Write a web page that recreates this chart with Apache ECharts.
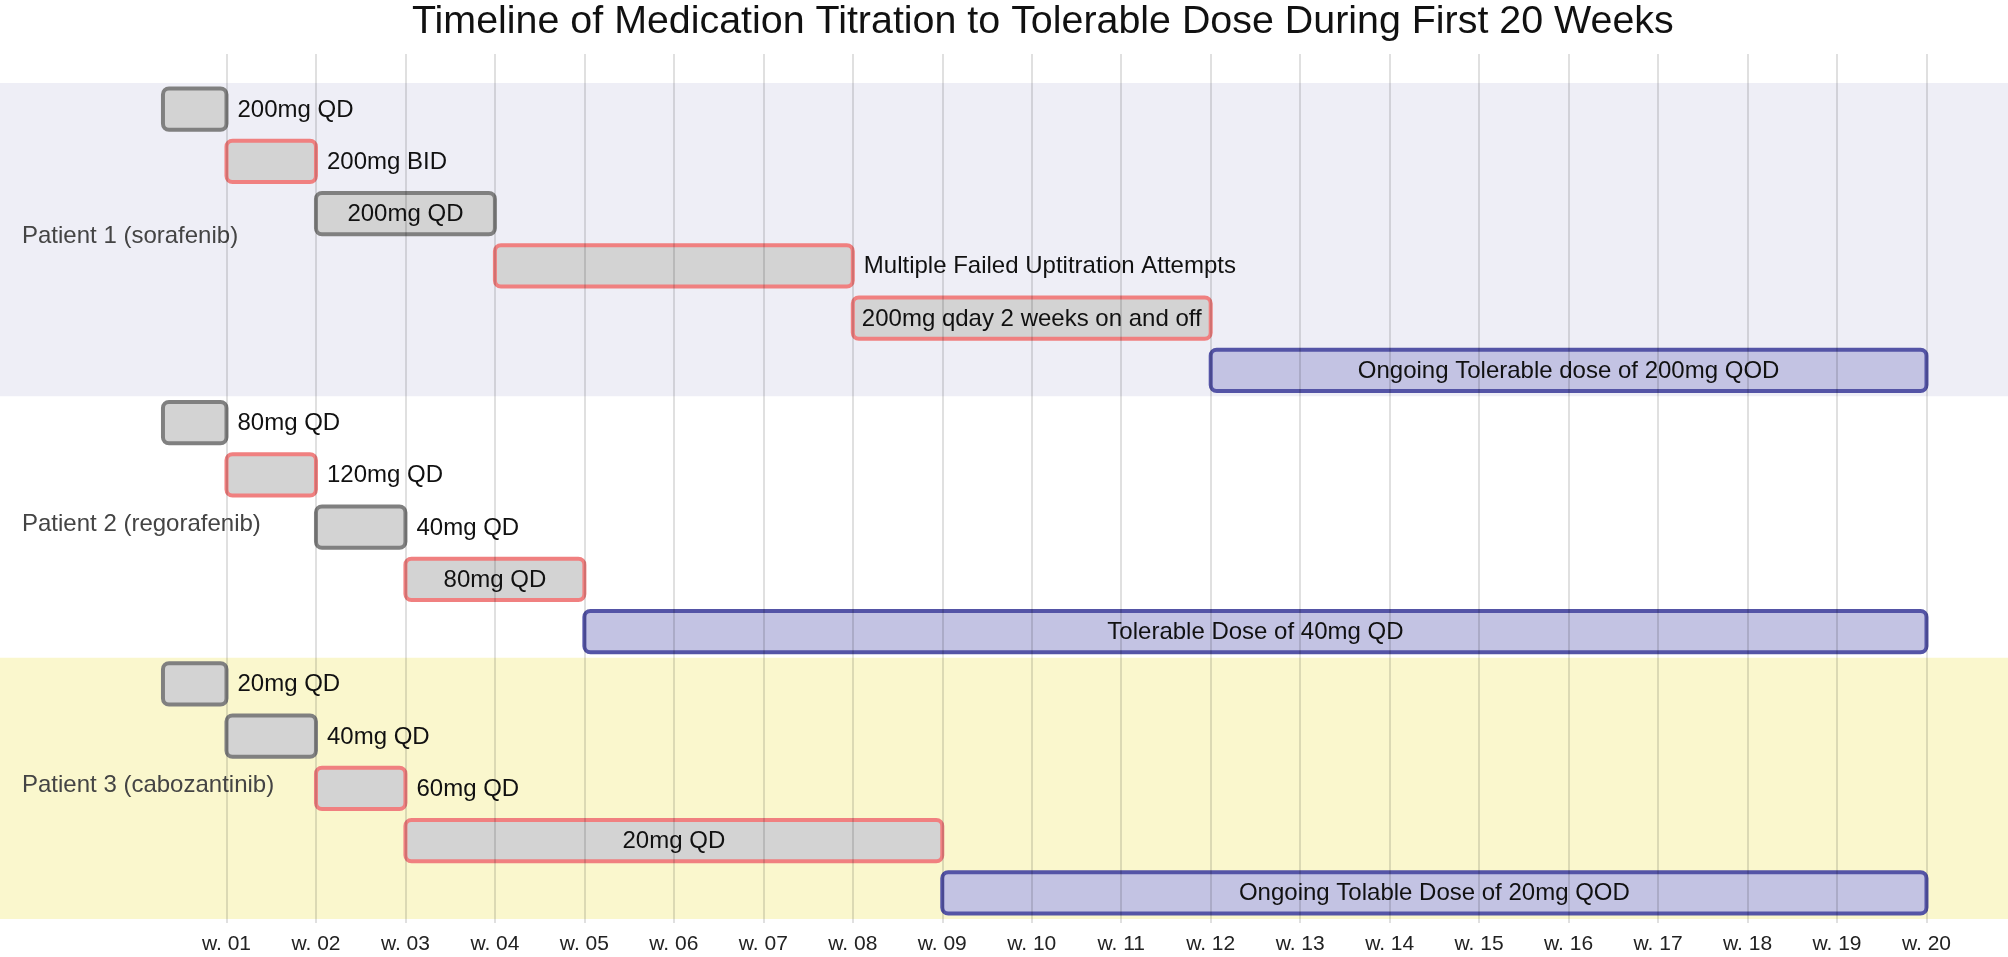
<!DOCTYPE html>
<html>
<head>
<meta charset="utf-8">
<title>Medication titration timeline</title>
<script src="https://cdn.jsdelivr.net/npm/echarts@6/dist/echarts.min.js"></script>
<style>
  html, body { margin: 0; padding: 0; background: #fff; }
  #chart { width: 2008px; height: 957px; }
</style>
</head>
<body>
<div id="chart"></div>
<script>
// patients and how many rows each one takes
const patients = ['Patient 1 (sorafenib)', 'Patient 2 (regorafenib)', 'Patient 3 (cabozantinib)'];
const patientRows = [6, 5, 5];
const bandColors = ['#eeeef6', '#ffffff', '#faf7cd'];

// each dose step: row (0..15), start week, end week, text, status
const taskRow = [0, 1, 2, 3, 4, 5, 6, 7, 8, 9, 10, 11, 12, 13, 14, 15];
const taskStart = [0.29, 1, 2, 4, 8, 12, 0.29, 1, 2, 3, 5, 0.29, 1, 2, 3, 9];
const taskEnd = [1, 2, 4, 8, 12, 20, 1, 2, 3, 5, 20, 1, 2, 3, 9, 20];
const taskLabel = [
  '200mg QD', '200mg BID', '200mg QD', 'Multiple Failed Uptitration Attempts',
  '200mg qday 2 weeks on and off', 'Ongoing Tolerable dose of 200mg QOD',
  '80mg QD', '120mg QD', '40mg QD', '80mg QD', 'Tolerable Dose of 40mg QD',
  '20mg QD', '40mg QD', '60mg QD', '20mg QD', 'Ongoing Tolable Dose of 20mg QOD'
];
// 0 = step, 1 = not tolerated, 2 = ongoing tolerable
const taskStatus = [0, 1, 0, 1, 1, 2, 0, 1, 0, 1, 2, 0, 0, 1, 1, 2];

const weeks = [];
for (let w = 1; w <= 20; w++) weeks.push(w);

const statusStroke = ['#808080', '#f08080', '#5454a6'];
const statusFill = ['#d3d3d3', '#d3d3d3', '#c3c3e3'];

const FONT = '"Liberation Sans", Arial, Helvetica, sans-serif';
const LABEL_SIZE = 24;

const ctx = document.createElement('canvas').getContext('2d');
ctx.font = LABEL_SIZE + 'px ' + FONT;
function textWidth(t) { return ctx.measureText(t).width; }

// bands from the row counts
const bands = [];
let r0 = 0;
patients.forEach((name, i) => {
  const r1 = r0 + patientRows[i];
  bands.push([
    { name: name, yAxis: r0, itemStyle: { color: bandColors[i] } },
    { yAxis: r1 }
  ]);
  r0 = r1;
});

const taskData = taskRow.map((row, i) => [row, taskStart[i], taskEnd[i], i]);

const chart = echarts.init(document.getElementById('chart'), null, { renderer: 'canvas' });

const option = {
  animation: false,
  backgroundColor: '#ffffff',
  textStyle: { fontFamily: FONT },
  title: {
    text: 'Timeline of Medication Titration to Tolerable Dose During First 20 Weeks',
    left: 412,
    top: 3,
    padding: 0,
    textStyle: { fontSize: 39.4, fontWeight: 'normal', color: '#111', fontFamily: FONT }
  },
  grid: { left: 0, right: 0, top: 54, bottom: 34 },
  xAxis: {
    type: 'value',
    min: -1.5314,
    max: 20.911,
    axisLine: { show: false },
    axisTick: { show: false },
    splitLine: { show: false },
    axisLabel: {
      customValues: weeks,
      formatter: v => 'w. ' + String(v).padStart(2, '0'),
      fontSize: 21,
      color: '#222',
      margin: 11,
      fontFamily: FONT
    }
  },
  yAxis: {
    type: 'value',
    inverse: true,
    min: -0.555,
    max: 16.077,
    show: false
  },
  series: [
    {
      type: 'line',
      data: [],
      z: 1,
      silent: true,
      markArea: {
        silent: true,
        label: {
          show: true,
          position: 'insideLeft',
          distance: 22,
          offset: [0, -3],
          fontSize: 24,
          color: '#444',
          fontFamily: FONT
        },
        data: bands
      }
    },
    {
      type: 'line',
      data: [],
      z: 2,
      silent: true,
      markLine: {
        silent: true,
        symbol: ['none', 'none'],
        label: { show: false },
        lineStyle: { color: 'rgba(0,0,0,0.12)', width: 2, type: 'solid' },
        data: weeks.map(w => ({ xAxis: w }))
      }
    },
    {
      type: 'custom',
      z: 3,
      data: taskData,
      encode: { x: [1, 2], y: 0 },
      renderItem: function (params, api) {
        const row = api.value(0);
        const i = api.value(3);
        const a = api.coord([api.value(1), row + 0.5]);
        const b = api.coord([api.value(2), row + 0.5]);
        const h = api.size([0, 1])[1] * 0.79;
        const w = b[0] - a[0];
        const label = taskLabel[i];
        const inside = textWidth(label) + 8 < w;
        return {
          type: 'group',
          children: [
            {
              type: 'rect',
              shape: { x: a[0], y: a[1] - h / 2, width: w, height: h, r: 6 },
              style: { fill: statusFill[taskStatus[i]], stroke: statusStroke[taskStatus[i]], lineWidth: 4 }
            },
            {
              type: 'text',
              style: {
                text: label,
                x: inside ? a[0] + w / 2 : b[0] + 11,
                y: a[1] + 1,
                align: inside ? 'center' : 'left',
                verticalAlign: 'middle',
                fontSize: LABEL_SIZE,
                fontFamily: FONT,
                fill: '#111'
              }
            }
          ]
        };
      }
    }
  ]
};

chart.setOption(option);
</script>
</body>
</html>
